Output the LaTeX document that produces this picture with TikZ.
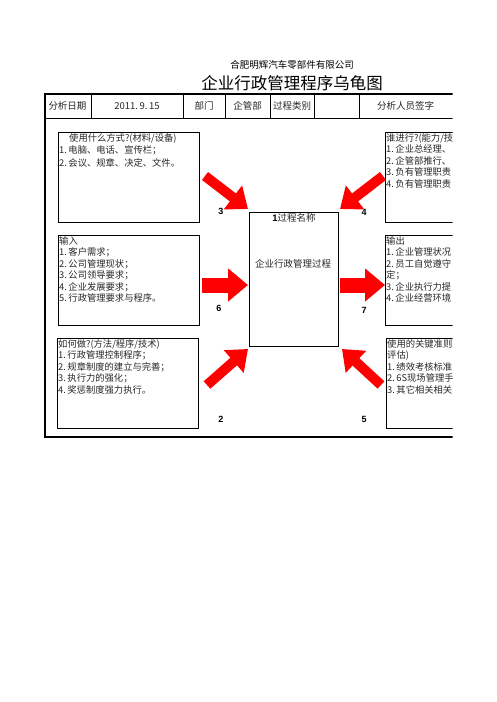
\documentclass[tikz,border=0pt]{standalone}
\usepackage{fontspec}
\setmainfont{Noto Sans CJK SC}
\newfontfamily\numfont{Liberation Sans}
\usepackage{tikz}
\usetikzlibrary{arrows.meta}
\tikzset{
  info box/.style={rectangle,draw,line width=0.9pt,minimum width=141pt,minimum height=90pt,anchor=north west,inner sep=0pt},
  info text/.style={anchor=north west,align=left,inner sep=1pt,text width=200pt,text=black!85,font=\fontsize{9.3}{11.5}\selectfont},
  cell/.style={font=\fontsize{9.5}{11}\selectfont,text=black!85},
  num label/.style={font=\numfont\bfseries\fontsize{9}{10}\selectfont},
  fat arrow/.style={red,line width=10pt,-{Triangle[length=19pt,width=29pt]}},
  wide arrow/.style={red,line width=15pt,-{Triangle[length=20pt,width=32pt]}}
}

\begin{document}
\begin{tikzpicture}[x=1pt,y=-1pt]
    \useasboundingbox (0,0) rectangle (496,702);

    % titles
    \node[font=\fontsize{9.5}{11}\selectfont] (company) at (292,65) {合肥明辉汽车零部件有限公司};
    \node[font=\fontsize{16.5}{18}\selectfont] (title) at (292,83) {企业行政管理程序乌龟图};

    \begin{scope}
    \clip (0,0) rectangle (452.5,702);

    % header row
    \draw[line width=2pt] (44,94) -- (460,94);
    \draw[line width=1pt] (44,118) -- (460,118);
    \foreach \x in {91,183,225,270,314,359}
        \draw[line width=0.8pt] (\x,94) -- (\x,118);
    \node[cell] (c1) at (67.5,106) {分析日期};
    \node[cell] (c2) at (137,106) {2011.\,9.\,15};
    \node[cell] (c3) at (204,106) {部门};
    \node[cell] (c4) at (247.5,106) {企管部};
    \node[cell] (c5) at (292,106) {过程类别};
    \node[cell] (c7) at (405.5,106) {分析人员签字};

    % frame
    \draw[line width=2pt] (45,93) -- (45,437) -- (460,437);

    % boxes
    \node[info box] (what) at (58,132) {};
    \node[info text,font=\fontsize{9.3}{12.5}\selectfont] (whatT) at (what.north west)
        {\hspace*{10pt}使用什么方式?(材料/设备)\\1.\,电脑、电话、宣传栏；\\2.\,会议、规章、决定、文件。};

    \node[info box] (who) at (385,132) {};
    \node[info text] (whoT) at (who.north west)
        {谁进行?(能力/技\\1.\,企业总经理、\\2.\,企管部推行、\\3.\,负有管理职责\\4.\,负有管理职责};

    \node[info box] (input) at (58,235) {};
    \node[info text] (inputT) at (input.north west)
        {输入\\1.\,客户需求；\\2.\,公司管理现状；\\3.\,公司领导要求；\\4.\,企业发展要求；\\5.\,行政管理要求与程序。};

    \node[info box] (output) at (385,235) {};
    \node[info text] (outputT) at (output.north west)
        {输出\\1.\,企业管理状况\\2.\,员工自觉遵守\\定；\\3.\,企业执行力提\\4.\,企业经营环境};

    \node[info box] (how) at (57,338) {};
    \node[info text] (howT) at (how.north west)
        {如何做?(方法/程序/技术)\\1.\,行政管理控制程序；\\2.\,规章制度的建立与完善；\\3.\,执行力的强化；\\4.\,奖惩制度强力执行。};

    \node[info box] (measure) at (386,338) {};
    \node[info text] (measureT) at (measure.north west)
        {使用的关键准则\\评估)\\1.\,绩效考核标准\\2.\,6S现场管理手\\3.\,其它相关相关};
    \end{scope}

    % process
    \node[rectangle,draw,line width=0.9pt,minimum width=89pt,minimum height=134pt,anchor=north west,inner sep=0pt] (proc) at (249,212) {};
    \node[font=\fontsize{9.5}{11}\selectfont,text=black!85] (procT) at (294,218) {{\numfont\bfseries\color{black} 1}过程名称};
    \node[font=\fontsize{9.5}{11}\selectfont,text=black!85] (procN) at (293,264) {企业行政管理过程};

    % arrows
    \coordinate (a3) at (205,176);  \coordinate (b3) at (248,209);
    \coordinate (a4) at (383,176);  \coordinate (b4) at (340,209);
    \coordinate (a6) at (202,285);  \coordinate (b6) at (248,285);
    \coordinate (a7) at (340,285);  \coordinate (b7) at (385,285);
    \coordinate (a2) at (207,385);  \coordinate (b2) at (248,349);
    \coordinate (a5) at (381,385);  \coordinate (b5) at (342,349);
    \draw[fat arrow] (a3) -- (b3);
    \draw[fat arrow] (a4) -- (b4);
    \draw[wide arrow] (a6) -- (b6);
    \draw[wide arrow] (a7) -- (b7);
    \draw[fat arrow] (a2) -- (b2);
    \draw[fat arrow] (a5) -- (b5);

    \node[num label] (n3) at (221,211) {3};
    \node[num label] (n4) at (364,212) {4};
    \node[num label] (n6) at (219,308) {6};
    \node[num label] (n7) at (364,310) {7};
    \node[num label] (n2) at (221,419) {2};
    \node[num label] (n5) at (364,419) {5};
\end{tikzpicture}
\end{document}
